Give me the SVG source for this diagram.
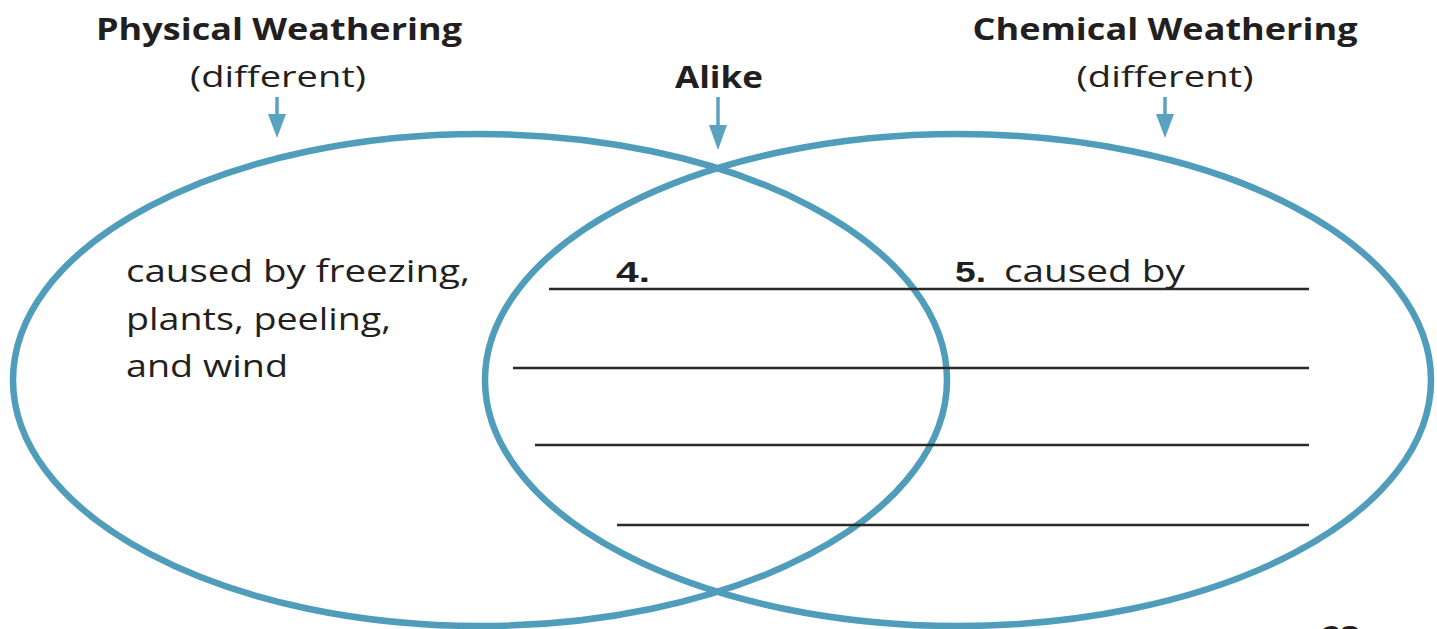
<svg xmlns="http://www.w3.org/2000/svg" width="1437" height="629" viewBox="0 0 1437 629">
<defs>
<style>
.t{font-family:"Open Sans","Noto Sans","Liberation Sans",sans-serif;fill:#231f20}
.b{font-weight:700}
.r{font-weight:400}
.n{font-family:"Liberation Sans",sans-serif;font-weight:900}
.ring{fill:none;stroke:#4f9dbb;stroke-width:6.5}
.rule{stroke:#2a2a2a;stroke-width:2.5}
.arr{stroke:#5aa3c0;stroke-width:3.5}
.head{fill:#5aa3c0}
</style>
</defs>
<rect width="1437" height="629" fill="#ffffff"/>

<g id="left-circle">
<ellipse class="ring" cx="480" cy="380" rx="467" ry="246"/>
</g>
<g id="right-circle">
<ellipse class="ring" cx="958" cy="380" rx="473" ry="246"/>
</g>

<g id="physical-label">
<text class="t b" x="279" y="40" font-size="31" text-anchor="middle" textLength="366" lengthAdjust="spacingAndGlyphs">Physical Weathering</text>
<text class="t r" x="278" y="87" font-size="30" text-anchor="middle" textLength="176" lengthAdjust="spacingAndGlyphs">(different)</text>
</g>
<g id="alike-label">
<text class="t b" x="719" y="88" font-size="31" text-anchor="middle" textLength="88" lengthAdjust="spacingAndGlyphs">Alike</text>
</g>
<g id="chemical-label">
<text class="t b" x="1165" y="40" font-size="31" text-anchor="middle" textLength="385" lengthAdjust="spacingAndGlyphs">Chemical Weathering</text>
<text class="t r" x="1165" y="87" font-size="30" text-anchor="middle" textLength="177" lengthAdjust="spacingAndGlyphs">(different)</text>
</g>

<g id="connectors">
<line class="arr" x1="277" y1="97" x2="277" y2="114"/>
<path class="head" d="M268,114 L286,114 L277,138 Z"/>
<line class="arr" x1="718" y1="97" x2="718" y2="125"/>
<path class="head" d="M709,125 L727,125 L718,150 Z"/>
<line class="arr" x1="1165" y1="97" x2="1165" y2="114"/>
<path class="head" d="M1156,114 L1174,114 L1165,138 Z"/>
</g>

<g id="left-text">
<text class="t r" x="126" y="282" font-size="31" textLength="344" lengthAdjust="spacingAndGlyphs">caused by freezing,</text>
<text class="t r" x="126" y="330" font-size="31" textLength="265" lengthAdjust="spacingAndGlyphs">plants, peeling,</text>
<text class="t r" x="126" y="377" font-size="31" textLength="162" lengthAdjust="spacingAndGlyphs">and wind</text>
</g>

<g id="answer-lines">
<line class="rule" x1="549" y1="289" x2="1309" y2="289"/>
<line class="rule" x1="513" y1="368" x2="1309" y2="368"/>
<line class="rule" x1="535" y1="445" x2="1309" y2="445"/>
<line class="rule" x1="617" y1="525" x2="1309" y2="525"/>
</g>

<g id="item-4">
<text class="t n" x="616" y="282" font-size="29" textLength="34" lengthAdjust="spacingAndGlyphs">4.</text>
</g>
<g id="item-5">
<text class="t n" x="955" y="282" font-size="29" textLength="31" lengthAdjust="spacingAndGlyphs">5.</text>
<text class="t r" x="1004" y="282" font-size="31" textLength="181" lengthAdjust="spacingAndGlyphs">caused by</text>
</g>

<g id="page-number">
<text class="t b" x="1322" y="648" font-size="30" textLength="38" lengthAdjust="spacingAndGlyphs">23</text>
</g>
</svg>
